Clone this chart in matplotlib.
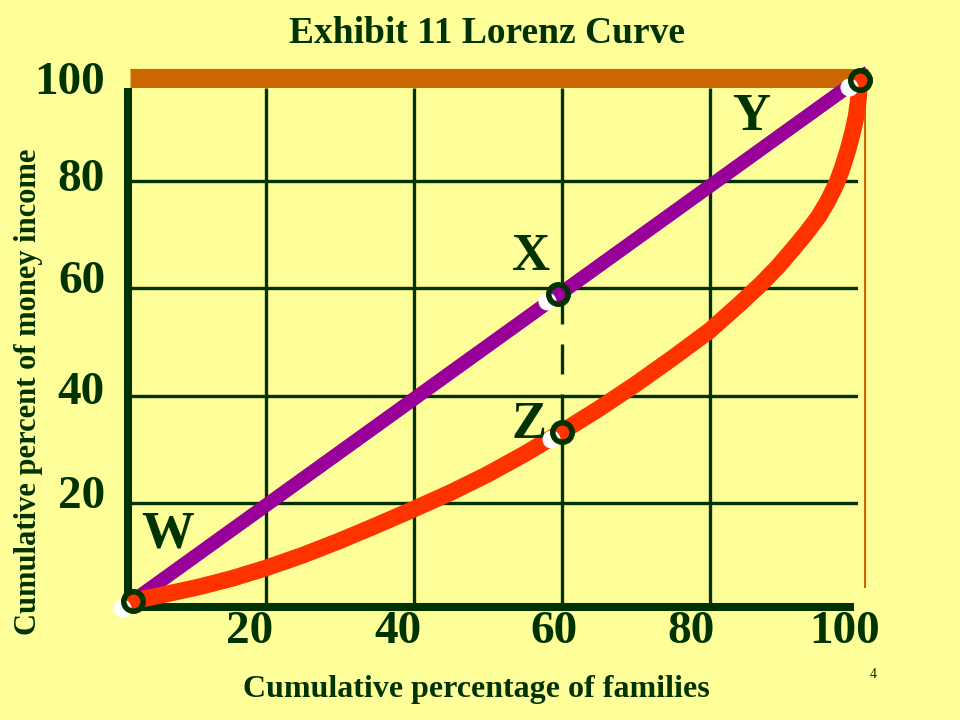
import matplotlib
matplotlib.use("Agg")
import matplotlib.pyplot as plt
from matplotlib.transforms import ScaledTranslation

# ---------------------------------------------------------
# Data
# ---------------------------------------------------------
grid_vals = [20, 40, 60, 80]
x_ticks = [20, 40, 60, 80, 100]
x_tick_labels = ["20", "40", "60", "80", "100"]
y_ticks = [20, 40, 60, 80, 100]
y_tick_labels = ["20", "40", "60", "80", "100"]

# line of perfect equality (W -> Y)
equal_x = [2.1, 101.5]
equal_y = [1.7, 100.4]

# Lorenz curve
lorenz_x = [2.1, 6.0, 11.0, 15.5, 20.0, 25.0, 30.0, 35.0, 40.0, 45.0,
            50.0, 55.0, 60.0, 65.0, 70.0, 75.0, 80.0, 84.0, 87.1, 89.2,
            91.2, 93.0, 94.7, 96.0, 97.2, 98.0, 98.7, 99.3, 99.8, 100.1, 100.3]
lorenz_y = [1.7, 2.8, 4.3, 5.9, 7.8, 10.2, 12.9, 15.8, 18.8, 21.9,
            25.3, 29.1, 33.2, 37.5, 42.1, 47.0, 52.1, 57.0, 61.0, 64.0,
            67.2, 70.2, 73.3, 76.3, 79.7, 82.7, 85.8, 88.9, 92.0, 95.0, 98.9]

point_names = ["W", "X", "Z", "Y"]
point_x = [2.1, 59.5, 60.1, 100.3]
point_y = [1.7, 59.0, 33.2, 98.9]

# ---------------------------------------------------------
# Colours / fonts
# ---------------------------------------------------------
BG = "#FFFF99"
DARK = "#003300"
PURPLE = "#990099"
RED = "#FF3300"
ORANGE = "#CC6600"

plt.rcParams["font.family"] = ["Liberation Serif", "DejaVu Serif"]
plt.rcParams["font.weight"] = "bold"
plt.rcParams["axes.labelweight"] = "bold"

fig = plt.figure(figsize=(9.6, 7.2), dpi=100, facecolor=BG)
ax = fig.add_axes([117.5 / 960, 110 / 720, 740 / 960, 536 / 720])
ax.set_facecolor(BG)
ax.set_xlim(0, 100)
ax.set_ylim(0, 100)
for s in ax.spines.values():
    s.set_visible(False)

# ---------------------------------------------------------
# Grid and axes lines
# ---------------------------------------------------------
ax.hlines(grid_vals, 1.4, 100, color=DARK, lw=2.4)
ax.vlines([20, 40, 80], 0, 97.4, color=DARK, lw=2.4)
ax.vlines(60, 0, 40, color=DARK, lw=2.4)
ax.vlines(60, point_y[1], 97.4, color=DARK, lw=2.4)
ax.plot([60, 60], [point_y[1], 40], color=DARK, lw=2.4, ls=(0, (9, 6)))

ax.plot([1.4, 1.4], [0.5, 97.4], color=DARK, lw=5.8, solid_capstyle="butt", clip_on=False)
ax.plot([1.4, 99.5], [0.5, 0.5], color=DARK, lw=5.8, solid_capstyle="butt", clip_on=False)

# top bar at 100 and thin right edge
ax.plot([1.7, 101.4], [99.25, 99.25], color=ORANGE, lw=13.7, solid_capstyle="butt", clip_on=False)
ax.plot([101.0, 101.0], [4.3, 98.0], color=ORANGE, lw=1.5, clip_on=False)

# ---------------------------------------------------------
# Curves
# ---------------------------------------------------------
ax.plot(equal_x, equal_y, color=PURPLE, lw=10, solid_capstyle="butt", clip_on=False)
ax.plot(lorenz_x, lorenz_y, color=RED, lw=12, solid_capstyle="round",
        solid_joinstyle="round", clip_on=False)

shift = ax.transData + ScaledTranslation(-0.11, -0.07, fig.dpi_scale_trans)
ax.plot(point_x, point_y, "o", ms=13, color="white", mec="none",
        transform=shift, clip_on=False, zorder=4)
ax.plot(point_x, point_y, "o", ms=14, mfc="none", mec=DARK, mew=4,
        clip_on=False, zorder=5)

label_pos = {"W": (6.8, 11.75), "X": (55.9, 63.4), "Z": (55.6, 32.1), "Y": (85.6, 89.6)}
for name in point_names:
    lx, ly = label_pos[name]
    ax.text(lx, ly, name, fontsize=38, color=DARK, ha="center", va="baseline")

# ---------------------------------------------------------
# Ticks and labels
# ---------------------------------------------------------
ax.set_xticks(x_ticks, labels=x_tick_labels)
ax.set_yticks(y_ticks, labels=y_tick_labels)
ax.tick_params(length=0, colors=DARK, labelsize=34)
ax.tick_params(axis="x", pad=1)
ax.tick_params(axis="y", pad=9)

x_shift_px = [-16, -16, -8, -19, -13]
for lab, dx in zip(ax.get_xticklabels(), x_shift_px):
    lab.set_transform(lab.get_transform() + ScaledTranslation(dx / 100, 0, fig.dpi_scale_trans))
y_shift_px = [11, 8, 11, 6, -4]
for lab, dy in zip(ax.get_yticklabels(), y_shift_px):
    lab.set_transform(lab.get_transform() + ScaledTranslation(0, dy / 100, fig.dpi_scale_trans))

ax.set_xlabel("Cumulative percentage of families", fontsize=23, color=DARK)
ax.xaxis.set_label_coords((476 - 117.5) / 740, (610 - 697) / 536)
ax.xaxis.label.set_va("baseline")

ax.set_ylabel("Cumulative percent of money income", fontsize=22, color=DARK)
ax.yaxis.set_label_coords((29 - 117.5) / 740, (610 - 392) / 536)
ax.yaxis.label.set_va("center")

fig.text(487 / 960, 1 - 43 / 720, "Exhibit 11 Lorenz Curve", fontsize=27,
         color=DARK, ha="center", va="baseline")
fig.text(873 / 960, 1 - 678 / 720, "4", fontsize=10, fontweight="normal",
         color=DARK, ha="center", va="baseline")

fig.savefig("out.png", dpi=100, facecolor=BG)
